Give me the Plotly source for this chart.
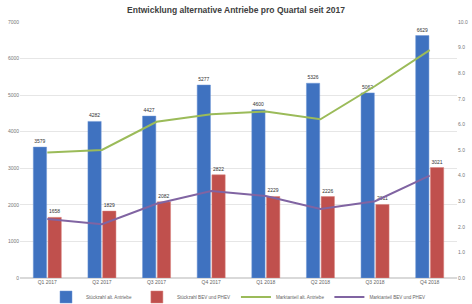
import plotly.graph_objects as go

quarters = ["Q1 2017", "Q2 2017", "Q3 2017", "Q4 2017", "Q1 2018", "Q2 2018", "Q3 2018", "Q4 2018"]
units_alt = [3579, 4282, 4427, 5277, 4600, 5326, 5062, 6629]
units_bev_phev = [1658, 1829, 2082, 2822, 2229, 2226, 2011, 3021]
share_alt = [4.9, 5.0, 6.1, 6.4, 6.5, 6.2, 7.5, 8.9]
share_bev_phev = [2.3, 2.1, 2.9, 3.4, 3.2, 2.7, 3.0, 4.0]

left_ticks = list(range(0, 8000, 1000))
right_ticks = [i for i in range(0, 11)]
right_labels = [f"{v:.1f}" for v in right_ticks]

font_family = "Liberation Sans, Arial, sans-serif"

fig = go.Figure()
fig.add_trace(go.Bar(
    x=quarters, y=units_alt, name="Stückzahl alt. Antriebe",
    marker=dict(color="#3F72C0", line=dict(color="#6F97D6", width=0.5)),
    text=[str(v) for v in units_alt], textposition="outside",
    textfont=dict(size=5, color="#333333"), cliponaxis=False,
))
fig.add_trace(go.Bar(
    x=quarters, y=units_bev_phev, name="Stückzahl BEV und PHEV",
    marker=dict(color="#C0504D", line=dict(color="#D9807D", width=0.5)),
    text=[str(v) for v in units_bev_phev], textposition="outside",
    textfont=dict(size=5, color="#333333"), cliponaxis=False,
))
fig.add_trace(go.Scatter(
    x=quarters, y=share_alt, name="Marktanteil alt. Antriebe", yaxis="y2",
    mode="lines", line=dict(color="#9BBB59", width=2),
))
fig.add_trace(go.Scatter(
    x=quarters, y=share_bev_phev, name="Marktanteil BEV und PHEV", yaxis="y2",
    mode="lines", line=dict(color="#8064A2", width=2),
))

fig.update_layout(
    width=472, height=304,
    margin=dict(l=20, r=15, t=22, b=26, autoexpand=False),
    paper_bgcolor="white", plot_bgcolor="white",
    font=dict(family=font_family, size=5, color="#666666"),
    title=dict(
        text="<b>Entwicklung alternative Antriebe pro Quartal seit 2017</b>",
        x=0.5, xanchor="center", y=1 - 10 / 304, yanchor="middle", yref="container",
        font=dict(size=8.5, color="#404040", family=font_family),
    ),
    barmode="group", bargap=0.46, bargroupgap=0.1,
    xaxis=dict(
        showgrid=False, showline=False, ticks="", automargin=False,
        tickfont=dict(size=5, color="#666666"),
    ),
    yaxis=dict(
        range=[0, 7000], tickvals=left_ticks, ticktext=[str(v) for v in left_ticks],
        showgrid=True, gridcolor="#E6E6E6", gridwidth=1, zeroline=True, zerolinecolor="#D9D9D9",
        tickfont=dict(size=5, color="#777777"), automargin=False,
    ),
    yaxis2=dict(
        range=[0, 10], tickvals=right_ticks, ticktext=right_labels,
        overlaying="y", side="right", showgrid=False, zeroline=False, automargin=False,
        tickfont=dict(size=5, color="#777777"),
    ),
    legend=dict(
        orientation="h", x=0.5, xanchor="center", y=-19 / 256, yanchor="middle",
        font=dict(size=4.6, color="#666666"), itemwidth=30, traceorder="normal",
        bgcolor="rgba(0,0,0,0)", tracegroupgap=0,
    ),
)

fig.write_html(
    "out.html",
    config={"displayModeBar": False},
    post_script="document.body.style.margin='0';document.body.style.padding='0';",
)
